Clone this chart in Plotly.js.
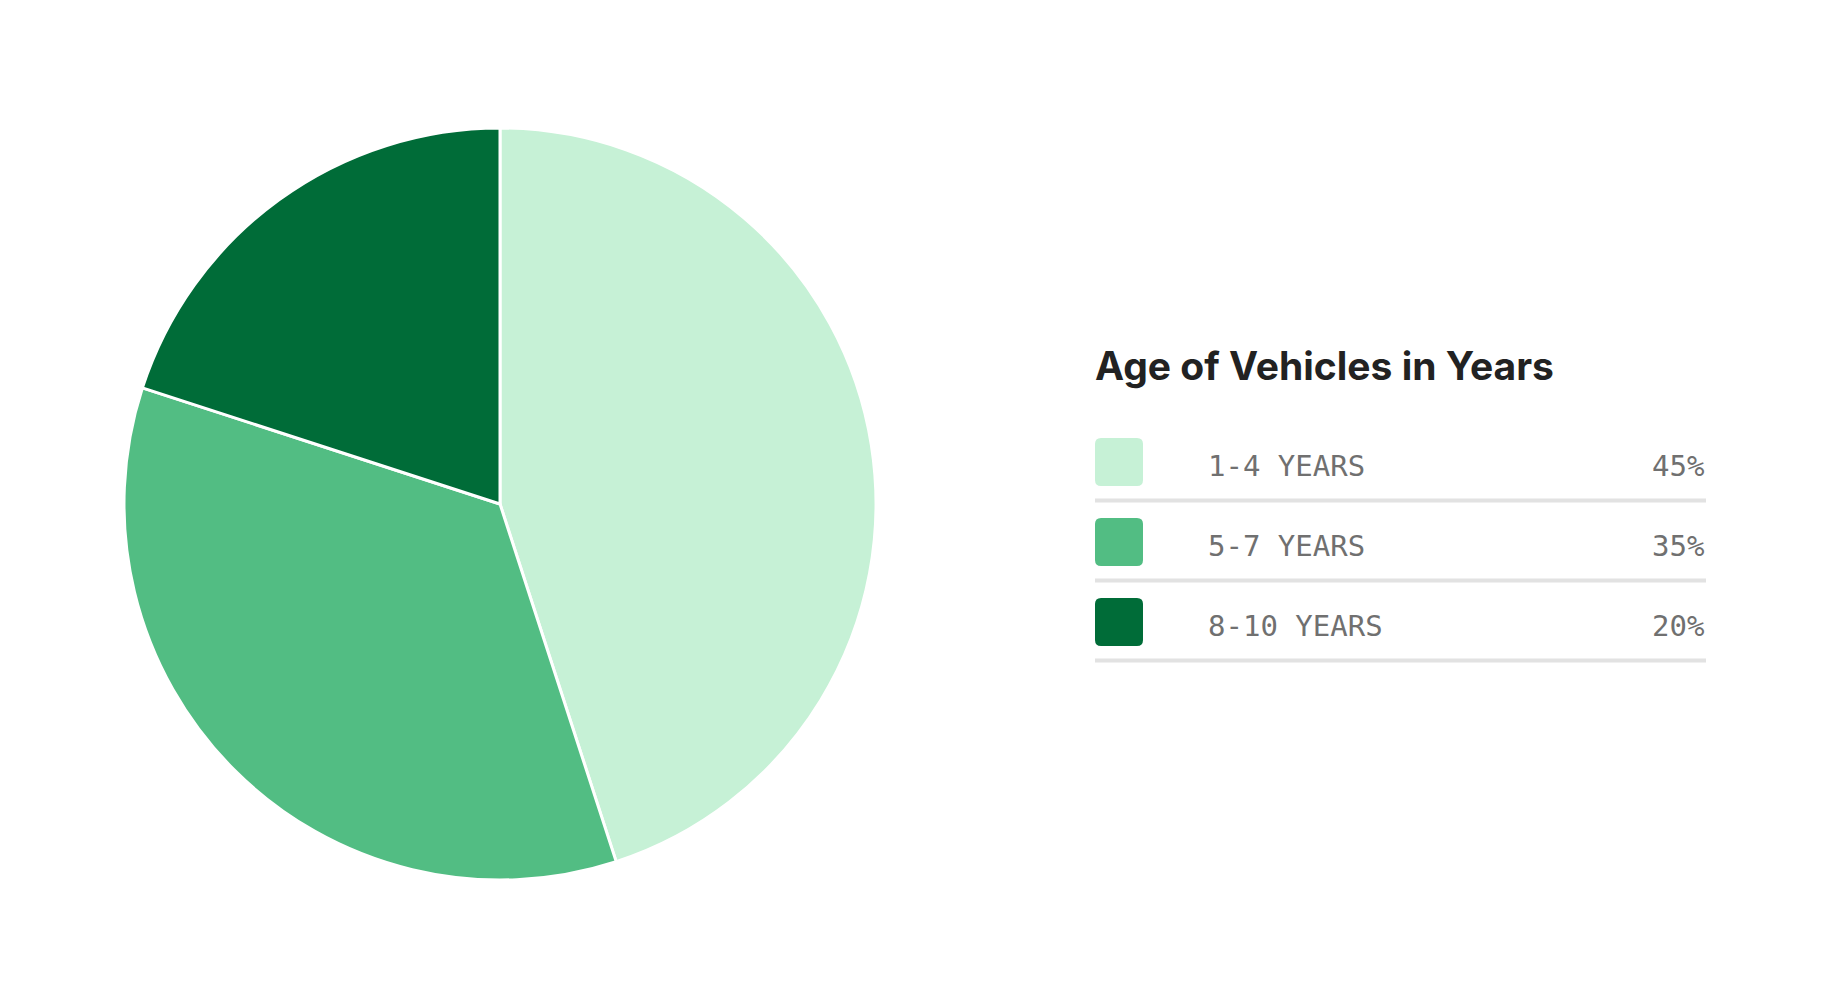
<!DOCTYPE html>
<html>
<head>
<meta charset="utf-8">
<script src="https://cdn.plot.ly/plotly-3.0.1.min.js"></script>
<style>
  html, body { margin: 0; padding: 0; background: #ffffff; }
  #chart { width: 1825px; height: 1003px; }
</style>
</head>
<body>
<div id="chart"></div>
<script>
// Share of vehicles by age band
const categories = ['1-4 YEARS', '5-7 YEARS', '8-10 YEARS'];
const shares = [45, 35, 20];
const colors = ['#c6f1d6', '#52bd83', '#006c38'];
const legendTitle = 'Age of Vehicles in Years';

const W = 1825, H = 1003;
const px = x => x / W;          // pixel -> paper x
const py = y => 1 - y / H;      // pixel -> paper y (from top)

const pie = {
  type: 'pie',
  labels: categories,
  values: shares,
  sort: false,
  direction: 'clockwise',
  rotation: 0,
  marker: { colors: colors, line: { color: '#ffffff', width: 3 } },
  textinfo: 'none',
  hoverinfo: 'label+percent',
  showlegend: false,
  domain: { x: [px(124), px(876)], y: [py(880), py(128)] }
};

// Custom legend: title, rounded swatches, labels, values and dividers
const shapes = [];
const annotations = [{
  xref: 'paper', yref: 'paper',
  x: px(1093), y: py(366),
  xanchor: 'left', yanchor: 'middle',
  text: legendTitle, showarrow: false,
  font: { family: 'Inter, Roboto, sans-serif', size: 39, weight: 700, color: '#222222' }
}];

const rowTop = 462, rowStep = 80, sw = 48, rad = 6;
const left = 1095, right = 1706;

categories.forEach((cat, i) => {
  const cy = rowTop + i * rowStep;
  const x0 = left, x1 = left + sw, y0 = cy - sw / 2, y1 = cy + sw / 2;
  const r = rad;
  const path = `M ${px(x0 + r)} ${py(y0)} L ${px(x1 - r)} ${py(y0)} ` +
    `Q ${px(x1)} ${py(y0)} ${px(x1)} ${py(y0 + r)} L ${px(x1)} ${py(y1 - r)} ` +
    `Q ${px(x1)} ${py(y1)} ${px(x1 - r)} ${py(y1)} L ${px(x0 + r)} ${py(y1)} ` +
    `Q ${px(x0)} ${py(y1)} ${px(x0)} ${py(y1 - r)} L ${px(x0)} ${py(y0 + r)} ` +
    `Q ${px(x0)} ${py(y0)} ${px(x0 + r)} ${py(y0)} Z`;
  shapes.push({
    type: 'path', xref: 'paper', yref: 'paper', path: path,
    fillcolor: colors[i], line: { width: 0 }
  });
  shapes.push({
    type: 'line', xref: 'paper', yref: 'paper',
    x0: px(left), x1: px(right), y0: py(cy + 38.5), y1: py(cy + 38.5),
    line: { color: '#e2e2e2', width: 4 }
  });
  annotations.push({
    xref: 'paper', yref: 'paper', x: px(1206), y: py(cy + 4),
    xanchor: 'left', yanchor: 'middle', showarrow: false, text: cat,
    font: { family: '"DejaVu Sans Mono", monospace', size: 29, color: '#707070' }
  });
  annotations.push({
    xref: 'paper', yref: 'paper', x: px(1706), y: py(cy + 4),
    xanchor: 'right', yanchor: 'middle', showarrow: false, text: shares[i] + '%',
    font: { family: '"DejaVu Sans Mono", monospace', size: 29, color: '#707070' }
  });
});

const layout = {
  width: W, height: H,
  margin: { l: 0, r: 0, t: 0, b: 0, pad: 0 },
  paper_bgcolor: '#ffffff',
  plot_bgcolor: '#ffffff',
  shapes: shapes,
  annotations: annotations,
  showlegend: false
};

Plotly.newPlot('chart', [pie], layout, { displayModeBar: false, staticPlot: true });
</script>
</body>
</html>
